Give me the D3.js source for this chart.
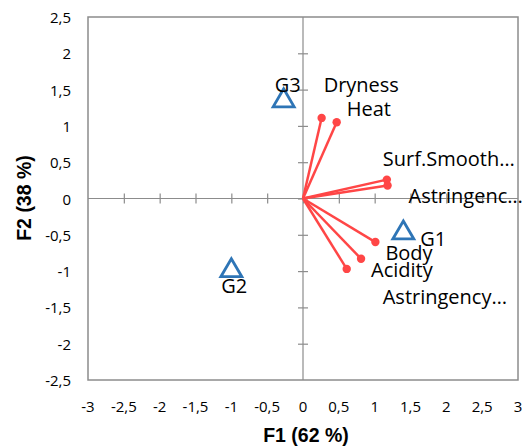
<!DOCTYPE html>
<html>
<head>
<meta charset="utf-8">
<script src="https://cdn.jsdelivr.net/npm/d3@7"></script>
<style>
  body { margin: 0; background: #fff; }
  svg { display: block; }
</style>
</head>
<body>
<svg width="529" height="446"></svg>
<script>
// variables (red vectors) - coordinates on F1 / F2
var varNames = ['Dryness', 'Heat', 'Surf.Smooth\u2026', 'Astringenc\u2026', 'Body', 'Acidity', 'Astringency\u2026'];
var varF1 = [0.26, 0.47, 1.17, 1.18, 1.01, 0.81, 0.61];
var varF2 = [1.11, 1.05, 0.26, 0.18, -0.6, -0.83, -0.97];

// groups (blue triangles)
var groupNames = ['G1', 'G2', 'G3'];
var groupF1 = [1.4, -1.0, -0.27];
var groupF2 = [-0.44, -0.96, 1.38];

var tickValues = [-3, -2.5, -2, -1.5, -1, -0.5, 0, 0.5, 1, 1.5, 2, 2.5, 3];
var yTickValues = [-2.5, -2, -1.5, -1, -0.5, 0, 0.5, 1, 1.5, 2, 2.5];

// label offsets in px (placement only)
var varLabelDx = [2, 10, -4, 21, 10, 10, 36];
var varLabelDy = [-33, -14, -21, 10, 10, 11, 28];
var groupLabelDx = [17, -10, -9];
var groupLabelDy = [8, 17, -14];

var svg = d3.select('svg');
var font = '"Open Sans", sans-serif';

var x = d3.scaleLinear().domain([-3, 3]).range([88, 518]);
var y = d3.scaleLinear().domain([-2.5, 2.5]).range([380, 17]);

var fmt = function(d){ return String(d).replace('.', ','); };

// frame
svg.append('rect')
    .attr('x', x(-3))
    .attr('y', y(2.5))
    .attr('width', x(3) - x(-3))
    .attr('height', y(-2.5) - y(2.5))
    .attr('fill', 'none')
    .attr('stroke', '#8c8c8c')
    .attr('stroke-width', 1.5);

// zero axes with crossing ticks
var xAxis = d3.axisBottom(x).tickValues(tickValues.slice(1, -1)).tickSize(10).tickFormat('');
svg.append('g')
    .attr('transform', 'translate(0,' + (y(0) - 5) + ')')
    .call(xAxis)
    .call(function(g){
        g.select('.domain').remove();
        g.selectAll('line').attr('stroke', '#8c8c8c').attr('stroke-width', 1.2);
    });
svg.append('line')
    .attr('x1', x(-3)).attr('x2', x(3))
    .attr('y1', y(0)).attr('y2', y(0))
    .attr('stroke', '#8c8c8c').attr('stroke-width', 1.2);

var yAxis = d3.axisRight(y).tickValues(yTickValues.slice(1, -1)).tickSize(10).tickFormat('');
svg.append('g')
    .attr('transform', 'translate(' + (x(0) - 5) + ',0)')
    .call(yAxis)
    .call(function(g){
        g.select('.domain').remove();
        g.selectAll('line').attr('stroke', '#8c8c8c').attr('stroke-width', 1.2);
    });
svg.append('line')
    .attr('x1', x(0)).attr('x2', x(0))
    .attr('y1', y(2.5)).attr('y2', y(-2.5))
    .attr('stroke', '#8c8c8c').attr('stroke-width', 1.2);

// tick labels
svg.append('g').selectAll('text')
    .data(tickValues)
    .enter()
    .append('text')
    .attr('x', function(d){ return x(d); })
    .attr('y', 406)
    .attr('text-anchor', 'middle')
    .attr('dominant-baseline', 'central')
    .attr('font-family', font)
    .attr('font-size', 15)
    .attr('fill', '#000')
    .text(fmt);

svg.append('g').selectAll('text')
    .data(yTickValues)
    .enter()
    .append('text')
    .attr('x', 71)
    .attr('y', function(d){ return y(d); })
    .attr('text-anchor', 'end')
    .attr('dominant-baseline', 'central')
    .attr('font-family', font)
    .attr('font-size', 15)
    .attr('fill', '#000')
    .text(fmt);

// axis titles
svg.append('text')
    .attr('x', 306)
    .attr('y', 435)
    .attr('text-anchor', 'middle')
    .attr('dominant-baseline', 'central')
    .attr('font-family', '"Liberation Sans", Arial, sans-serif')
    .attr('font-weight', 'bold')
    .attr('font-size', 19.5)
    .text('F1 (62 %)');

svg.append('text')
    .attr('transform', 'translate(24,198) rotate(-90)')
    .attr('text-anchor', 'middle')
    .attr('dominant-baseline', 'central')
    .attr('font-family', '"Liberation Sans", Arial, sans-serif')
    .attr('font-weight', 'bold')
    .attr('font-size', 19.5)
    .text('F2 (38 %)');

// vectors
var vars = varNames.map(function(n, i){
    return {name: n, f1: varF1[i], f2: varF2[i], dx: varLabelDx[i], dy: varLabelDy[i]};
});

svg.append('g').selectAll('line')
    .data(vars)
    .enter()
    .append('line')
    .attr('x1', x(0))
    .attr('y1', y(0))
    .attr('x2', function(d){ return x(d.f1); })
    .attr('y2', function(d){ return y(d.f2); })
    .attr('stroke', '#ff4646')
    .attr('stroke-width', 2.5);

svg.append('g').selectAll('circle')
    .data(vars)
    .enter()
    .append('circle')
    .attr('cx', function(d){ return x(d.f1); })
    .attr('cy', function(d){ return y(d.f2); })
    .attr('r', 4.2)
    .attr('fill', '#ff4646');

svg.append('g').selectAll('text')
    .data(vars)
    .enter()
    .append('text')
    .attr('x', function(d){ return x(d.f1) + d.dx; })
    .attr('y', function(d){ return y(d.f2) + d.dy; })
    .attr('dominant-baseline', 'central')
    .attr('font-family', font)
    .attr('font-size', 20)
    .attr('fill', '#000')
    .text(function(d){ return d.name; });

// groups
var grps = groupNames.map(function(n, i){
    return {name: n, f1: groupF1[i], f2: groupF2[i], dx: groupLabelDx[i], dy: groupLabelDy[i]};
});

svg.append('g').selectAll('path')
    .data(grps)
    .enter()
    .append('path')
    .attr('transform', function(d){ return 'translate(' + x(d.f1) + ',' + y(d.f2) + ')'; })
    .attr('d', 'M0,-9.5 L10.5,8.5 L-10.5,8.5 Z')
    .attr('fill', 'none')
    .attr('stroke', '#2e75b6')
    .attr('stroke-width', 2.8)
    .attr('stroke-linejoin', 'miter');

svg.append('g').selectAll('text')
    .data(grps)
    .enter()
    .append('text')
    .attr('x', function(d){ return x(d.f1) + d.dx; })
    .attr('y', function(d){ return y(d.f2) + d.dy; })
    .attr('dominant-baseline', 'central')
    .attr('font-family', font)
    .attr('font-size', 20)
    .attr('fill', '#000')
    .text(function(d){ return d.name; });
</script>
</body>
</html>
